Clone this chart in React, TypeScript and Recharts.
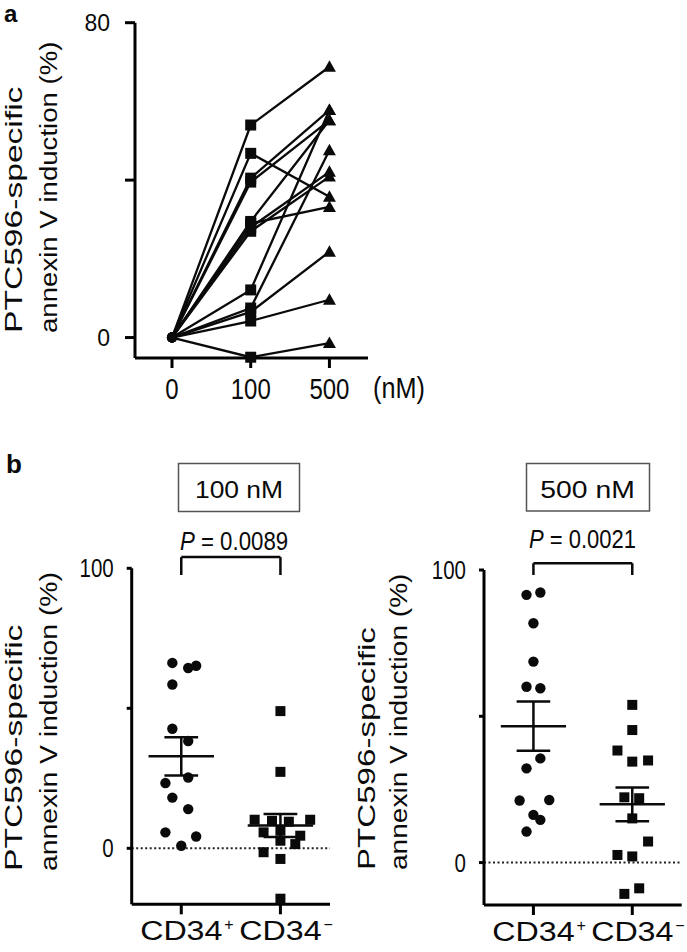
import {
  Line,
  LineChart,
  ReferenceLine,
  Scatter,
  ScatterChart,
  XAxis,
  YAxis,
} from "recharts";

const FONT = "'Liberation Sans', Arial, Helvetica, sans-serif";
const INK = "#0a0a0a";

// panel a: paired samples, 0 -> 100 -> 500 nM
const doses = ["0", "100", "500"];
const at0 = [0, 0, 0, 0, 0, 0, 0, 0, 0, 0, 0, 0, 0];
const at100 = [54, 46.8, 40.5, 39.5, 29.5, 29, 28, 27, 12.1, 7.5, 6.5, 4.2, -5];
const at500 = [68.8, 35.8, 57.8, 55.2, 55.2, 33.2, 42.1, 40.9, 57.8, 47.6, 21.8, 9.6, -1.4];
const yTicksA = [0, 40, 80];
const yLabelsA = [0, 80];

// panel b: CD34+ vs CD34- dot plots
const groups = ["CD34+", "CD34−"];
const pos100 = [66.2, 64.4, 65.2, 58.5, 42.7, 38.3, 23.3, 25.3, 18.1, 14, 5.7, 4.2, 0.9];
const pos100Jitter = [-0.09, 0.07, 0.15, -0.09, -0.09, 0.07, -0.16, 0.07, -0.09, 0.07, -0.16, 0.15, 0];
const neg100 = [49, 27.3, 10.2, 9.8, 9.5, 10.2, 5.7, 6.3, 4.5, 2.7, 1.5, -1.4, -3.8, -18];
const neg100Jitter = [0, 0, -0.26, -0.085, 0.085, 0.3, -0.17, 0, 0.2, 0, 0.15, -0.17, 0, 0];
const pos500 = [91.5, 92.3, 81.8, 68.7, 60.1, 59.6, 35.6, 32.2, 21.2, 21.4, 16.3, 14.6, 10.6];
const pos500Jitter = [-0.07, 0.07, 0, 0, -0.07, 0.07, 0.07, -0.07, -0.14, 0.16, 0, 0.07, -0.07];
const neg500 = [53.9, 45.3, 38.3, 34.5, 34.9, 22.3, 22, 15.1, 7.2, 2.6, 2.1, -8.8, -10.7];
const neg500Jitter = [0, 0, -0.15, 0, 0.16, -0.08, 0.07, 0, 0.16, -0.15, 0, 0.07, -0.08];
const yTicksB = [0, 50, 100];
const yLabelsB = [0, 100];
const doseTitles = ["100 nM", "500 nM"];
const pValues = ["0.0089", "0.0021"];

const pairedRows = doses.map((_, i) => {
  const cols = [at0, at100, at500][i];
  const row: Record<string, number> = { x: i };
  cols.forEach((v, k) => {
    row[`s${k}`] = v;
  });
  return row;
});

function points(values: number[], jitter: number[], group: number) {
  return values.map((y, i) => ({ x: group + jitter[i], y }));
}

function meanSem(values: number[]) {
  const n = values.length;
  const m = values.reduce((a, b) => a + b, 0) / n;
  const sd = Math.sqrt(values.reduce((a, b) => a + (b - m) ** 2, 0) / (n - 1));
  return { m, sem: sd / Math.sqrt(n) };
}

interface STextProps {
  x: number;
  y: number;
  size: number;
  sx?: number;
  anchor?: "start" | "middle" | "end";
  rotate?: boolean;
  weight?: string | number;
  children: React.ReactNode;
}

function SText({ x, y, size, sx = 1, anchor = "middle", rotate, weight, children }: STextProps) {
  return (
    <text
      transform={`translate(${x},${y})${rotate ? " rotate(-90)" : ""} scale(${sx},1)`}
      textAnchor={anchor}
      fontSize={size}
      fontFamily={FONT}
      fontWeight={weight}
      fill={INK}
    >
      {children}
    </text>
  );
}

function PairedDot(props: any) {
  const { cx, cy, index, dataKey } = props;
  const key = `${dataKey}-${index}`;
  if (cx == null || cy == null) return <g key={key} />;
  if (index === 0) return <circle key={key} cx={cx} cy={cy} r={5} fill={INK} />;
  if (index === 1)
    return <rect key={key} x={cx - 5.5} y={cy - 5.5} width={11} height={11} fill={INK} />;
  return (
    <path
      key={key}
      d={`M${cx},${cy - 6.5}L${cx + 6.5},${cy + 5}L${cx - 6.5},${cy + 5}Z`}
      fill={INK}
    />
  );
}

function DoseTick({ x, y, payload }: any) {
  return (
    <SText x={x} y={y + 21} size={30} sx={0.8}>
      {doses[payload.value]}
    </SText>
  );
}

function makeValueTick(labels: number[], size: number, sx: number) {
  return ({ x, y, payload }: any) =>
    labels.includes(payload.value) ? (
      <SText x={x} y={y + size * 0.36} size={size} sx={sx} anchor="end">
        {payload.value}
      </SText>
    ) : (
      <g />
    );
}

function GroupTick({ x, y, payload }: any) {
  const label = groups[payload.value - 1] ?? "";
  return (
    <g>
      <SText x={x} y={y + 20} size={28} sx={1.15}>
        {label.slice(0, -1)}
      </SText>
      <SText x={x + 43} y={y + 10} size={16} anchor="start">
        {label.slice(-1)}
      </SText>
    </g>
  );
}

const axisStyle = { stroke: "#000", strokeWidth: 3 };

function PairedChart() {
  return (
    <LineChart
      width={440}
      height={420}
      data={pairedRows}
      margin={{ top: 22.7, right: 72, bottom: 0, left: 0 }}
    >
      <XAxis
        type="number"
        dataKey="x"
        domain={[-0.47, 2.49]}
        ticks={[0, 1, 2]}
        height={62}
        tickSize={10}
        tickMargin={10}
        axisLine={axisStyle}
        tickLine={axisStyle}
        tick={DoseTick}
      />
      <YAxis
        type="number"
        domain={[-5.2, 80]}
        ticks={yTicksA}
        width={135}
        tickSize={10}
        tickMargin={15}
        axisLine={axisStyle}
        tickLine={axisStyle}
        tick={makeValueTick(yLabelsA, 23, 1)}
      />
      {at100.map((_, k) => (
        <Line
          key={k}
          type="linear"
          dataKey={`s${k}`}
          stroke={INK}
          strokeWidth={2.3}
          dot={PairedDot}
          activeDot={false}
          isAnimationActive={false}
        />
      ))}
    </LineChart>
  );
}

interface DotPlotProps {
  width: number;
  height: number;
  top: number;
  right: number;
  yAxisWidth: number;
  xAxisHeight: number;
  yMin: number;
  pos: number[];
  posJitter: number[];
  neg: number[];
  negJitter: number[];
  bracketTop: number;
  bracketFoot: number;
}

function DotPlot(p: DotPlotProps) {
  const stats = [meanSem(p.pos), meanSem(p.neg)];
  const segs: { x: number; y: number }[][] = [];
  stats.forEach(({ m, sem }, i) => {
    const g = i + 1;
    segs.push([{ x: g - 0.33, y: m }, { x: g + 0.33, y: m }]);
    segs.push([{ x: g, y: m - sem }, { x: g, y: m + sem }]);
    segs.push([{ x: g - 0.17, y: m + sem }, { x: g + 0.17, y: m + sem }]);
    segs.push([{ x: g - 0.17, y: m - sem }, { x: g + 0.17, y: m - sem }]);
  });
  const bracket = [
    [{ x: 1, y: p.bracketFoot }, { x: 1, y: p.bracketTop }],
    [{ x: 1, y: p.bracketTop }, { x: 2, y: p.bracketTop }],
    [{ x: 2, y: p.bracketTop }, { x: 2, y: p.bracketFoot }],
  ];
  return (
    <ScatterChart
      width={p.width}
      height={p.height}
      margin={{ top: p.top, right: p.right, bottom: 0, left: 0 }}
    >
      <XAxis
        type="number"
        dataKey="x"
        domain={[0.5, 2.5]}
        ticks={[1, 2]}
        height={p.xAxisHeight}
        tickSize={10}
        tickMargin={6}
        axisLine={axisStyle}
        tickLine={axisStyle}
        tick={GroupTick}
      />
      <YAxis
        type="number"
        dataKey="y"
        domain={[p.yMin, 100]}
        ticks={yTicksB}
        width={p.yAxisWidth}
        tickSize={5}
        tickMargin={13}
        axisLine={axisStyle}
        tickLine={axisStyle}
        tick={makeValueTick(yLabelsB, 25, 0.82)}
      />
      <ReferenceLine y={0} stroke="#222" strokeWidth={2} strokeDasharray="2 2.5" />
      <Scatter
        data={points(p.pos, p.posJitter, 1)}
        isAnimationActive={false}
        shape={(s: any) => <circle cx={s.cx} cy={s.cy} r={5.2} fill={INK} />}
      />
      <Scatter
        data={points(p.neg, p.negJitter, 2)}
        isAnimationActive={false}
        shape={(s: any) => (
          <rect x={s.cx - 5} y={s.cy - 5} width={10} height={10} fill={INK} />
        )}
      />
      {segs.map((s, i) => (
        <ReferenceLine key={`ms${i}`} segment={s} stroke={INK} strokeWidth={2.5} />
      ))}
      {bracket.map((s, i) => (
        <ReferenceLine
          key={`br${i}`}
          segment={s}
          stroke={INK}
          strokeWidth={2.5}
          ifOverflow="visible"
        />
      ))}
    </ScatterChart>
  );
}

function YTitle({ x1, x2, y, s1, s2 }: { x1: number; x2: number; y: number; s1: number; s2: number }) {
  return (
    <g>
      <SText x={x1} y={y} size={24} sx={s1} anchor="start" rotate>
        PTC596-specific
      </SText>
      <SText x={x2} y={y} size={24} sx={s2} anchor="start" rotate>
        annexin V induction (%)
      </SText>
    </g>
  );
}

function Annotations() {
  return (
    <svg
      width={687}
      height={952}
      style={{ position: "absolute", left: 0, top: 0, pointerEvents: "none" }}
    >
      <SText x={4} y={22} size={24} weight="bold" anchor="start">
        a
      </SText>
      <SText x={6} y={473} size={26} weight="bold" anchor="start">
        b
      </SText>
      <YTitle x1={22} x2={57} y={333} s1={1.4} s2={1.15} />
      <YTitle x1={22} x2={57} y={871} s1={1.4} s2={1.18} />
      <YTitle x1={375} x2={407} y={870} s1={1.38} s2={1.17} />
      <SText x={373} y={398} size={29} sx={0.87} anchor="start">
        (nM)
      </SText>

      <rect x={178.5} y={463.5} width={121} height={48} fill="none" stroke="#555" strokeWidth={1.5} />
      <SText x={239} y={498} size={24} sx={1.1}>
        {doseTitles[0]}
      </SText>
      <SText x={234} y={550} size={25} sx={0.89}>
        <tspan fontStyle="italic">P</tspan> = {pValues[0]}
      </SText>

      <rect x={526.5} y={463.5} width={123} height={47.5} fill="none" stroke="#555" strokeWidth={1.5} />
      <SText x={587.5} y={498} size={24} sx={1.18}>
        {doseTitles[1]}
      </SText>
      <SText x={582.5} y={548} size={25} sx={0.88}>
        <tspan fontStyle="italic">P</tspan> = {pValues[1]}
      </SText>
    </svg>
  );
}

export default function App() {
  return (
    <div
      style={{
        position: "absolute",
        left: 0,
        top: 0,
        width: 687,
        height: 952,
        background: "#fff",
        fontFamily: FONT,
      }}
    >
      <div style={{ position: "absolute", left: 0, top: 0 }}>
        <PairedChart />
      </div>
      <div style={{ position: "absolute", left: 0, top: 440 }}>
        <DotPlot
          width={340}
          height={512}
          top={128.3}
          right={10}
          yAxisWidth={131.7}
          xAxisHeight={47.7}
          yMin={-20}
          pos={pos100}
          posJitter={pos100Jitter}
          neg={neg100}
          negJitter={neg100Jitter}
          bracketTop={104}
          bracketFoot={97.6}
        />
      </div>
      <div style={{ position: "absolute", left: 340, top: 440 }}>
        <DotPlot
          width={347}
          height={512}
          top={130}
          right={5.3}
          yAxisWidth={144}
          xAxisHeight={47}
          yMin={-14.5}
          pos={pos500}
          posJitter={pos500Jitter}
          neg={neg500}
          negJitter={neg500Jitter}
          bracketTop={102.3}
          bracketFoot={98.3}
        />
      </div>
      <Annotations />
    </div>
  );
}
